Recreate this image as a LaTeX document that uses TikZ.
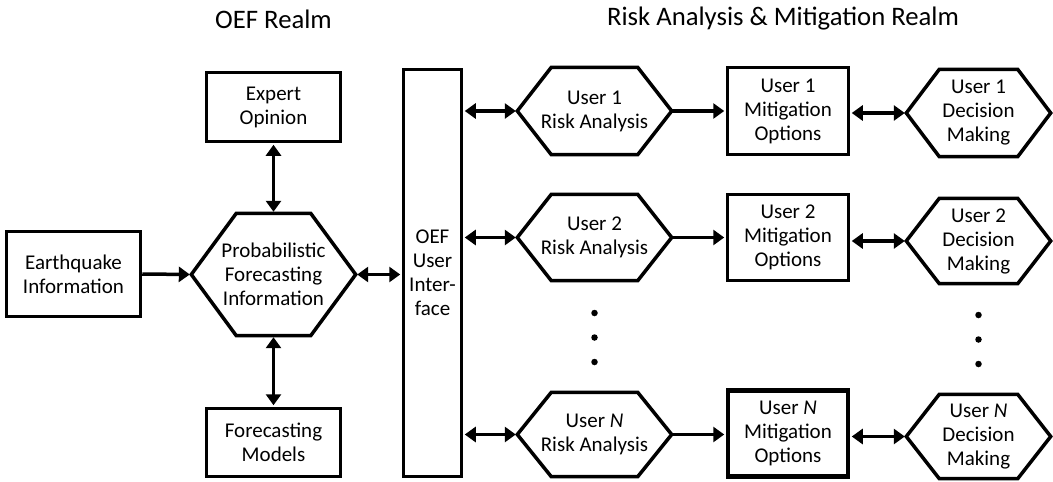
\documentclass[tikz,border=0pt]{standalone}
\usepackage{fontspec}
\setmainfont{Carlito}
\usetikzlibrary{arrows.meta,calc}
\newcommand\hexnode[7]{%
  \node[hexbox,minimum width=#4,minimum height=#5] (#1) at (#2,#3) {#7};
  \draw[hexline] (#1.west) -- ($(#1.north west)+(#6,0)$) -- ($(#1.north east)+(-#6,0)$)
    -- (#1.east) -- ($(#1.south east)+(-#6,0)$) -- ($(#1.south west)+(#6,0)$) -- cycle;}
\begin{document}
\begin{tikzpicture}[x=1pt,y=-1pt,
  txt/.style={font=\fontsize{21}{24}\selectfont,align=center},
  box/.style={txt,draw,line width=3.5pt,rectangle,inner sep=0pt},
  hexbox/.style={txt,rectangle,inner sep=0pt},
  hexline/.style={line width=3.5pt,line join=miter},
  tip/.tip={Triangle[length=11pt,width=15pt]},
  conn/.style={line width=3.5pt,-tip,shorten >=1.5pt},
  bconn/.style={line width=3.5pt,tip-tip,shorten >=1.5pt,shorten <=1.5pt},
  title/.style={font=\fontsize{26.7}{30}\selectfont},
  dot/.style={circle,fill,inner sep=0pt,minimum size=6.5pt}]
\useasboundingbox (0,0) rectangle (1053,482);

\node[title] (t1) at (273.5,19) {OEF Realm};
\node[title] (t2) at (783,19) {Risk Analysis \& Mitigation Realm};

\node[box,minimum width=134,minimum height=85] (eq) at (73.5,274) {Earthquake\\Information};
\node[box,minimum width=134,minimum height=69] (exp) at (273.5,107) {Expert\\Opinion};
\node[box,minimum width=134,minimum height=68] (fm) at (273.5,442.5) {Forecasting\\Models};
\hexnode{pfi}{273.5}{274.5}{164}{122}{45}{Probabilistic\\Forecasting\\Information}
\node[box,minimum width=58,minimum height=407] (oef) at (432.5,273) {OEF\\User\\Inter-\\face};

\hexnode{r1}{594.5}{111}{154}{87}{34}{User 1\\Risk Analysis}
\hexnode{r2}{594.5}{237.5}{154}{86}{34}{User 2\\Risk Analysis}
\hexnode{rn}{594.5}{434.5}{154}{84}{34}{User \textit{N}\\Risk Analysis}

\node[box,minimum width=121,minimum height=87] (m1) at (788,111) {User 1\\Mitigation\\Options};
\node[box,minimum width=121,minimum height=86] (m2) at (788,237.5) {User 2\\Mitigation\\Options};
\node[box,line width=4.5pt,minimum width=120,minimum height=86] (mn) at (788,433.5) {User \textit{N}\\Mitigation\\Options};

\hexnode{d1}{978.5}{113}{144}{87}{33}{User 1\\Decision\\Making}
\hexnode{d2}{978.5}{241}{144}{85}{33}{User 2\\Decision\\Making}
\hexnode{dn}{978.5}{436.5}{144}{84}{33}{User \textit{N}\\Decision\\Making}

\node[dot] (rd1) at (594.5,313) {};
\node[dot] (rd2) at (594.5,337.5) {};
\node[dot] (rd3) at (594.5,362) {};
\node[dot] (dd1) at (978.5,315) {};
\node[dot] (dd2) at (978.5,339.5) {};
\node[dot] (dd3) at (978.5,364) {};

\draw[conn] (eq.east) -- (pfi.west);
\draw[bconn] (exp.south) -- (pfi.north);
\draw[bconn] (pfi.south) -- (fm.north);
\draw[bconn] (pfi.east) -- (oef.west |- pfi.east);
\draw[bconn] (oef.east |- r1.west) -- (r1.west);
\draw[bconn] (oef.east |- r2.west) -- (r2.west);
\draw[bconn] (oef.east |- rn.west) -- (rn.west);
\draw[conn] (r1.east) -- (m1.west |- r1.east);
\draw[conn] (r2.east) -- (m2.west |- r2.east);
\draw[conn] (rn.east) -- (mn.west |- rn.east);
\draw[bconn] (m1.east |- d1.west) -- (d1.west);
\draw[bconn] (m2.east |- d2.west) -- (d2.west);
\draw[bconn] (mn.east |- dn.west) -- (dn.west);
\end{tikzpicture}
\end{document}
